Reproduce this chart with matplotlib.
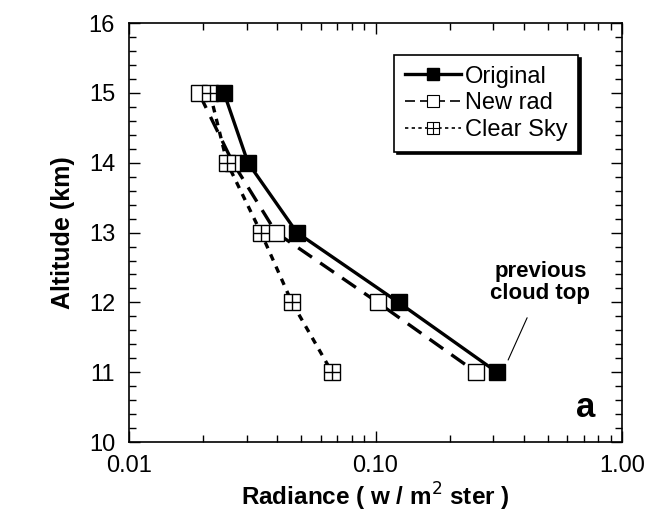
import numpy as np
import matplotlib.pyplot as plt
from matplotlib.lines import Line2D
from matplotlib.legend_handler import HandlerTuple
from matplotlib.ticker import FixedLocator, MultipleLocator, NullFormatter

plt.rcParams['font.family'] = ['Liberation Sans', 'DejaVu Sans']

# Altitude levels (km) and radiance profiles (w / m^2 ster)
altitude = [15, 14, 13, 12, 11]
original = [0.0243, 0.0304, 0.048, 0.124, 0.311]
new_rad = [0.0192, 0.0264, 0.0395, 0.102, 0.256]
altitude_clear = [15, 14, 13, 12, 11]
clear_sky = [0.0213, 0.0250, 0.0343, 0.0458, 0.0666]

x_ticks = [0.01, 0.1, 1.0]
x_tick_labels = ['0.01', '0.10', '1.00']
y_ticks = [10, 11, 12, 13, 14, 15, 16]

fig = plt.figure(figsize=(6.48, 5.14), dpi=100)
ax = fig.add_axes([0.199, 0.140, 0.761, 0.815])

ms = 11
# Original: solid line, filled squares
ax.plot(original, altitude, color='black', lw=2.4, marker='s', ms=ms,
        mfc='black', mec='black', mew=1, zorder=4)
# New rad: long dashes, open squares
ax.plot(new_rad, altitude, color='black', lw=2.4, ls=(0, (5, 3)), marker='s',
        ms=ms, mfc='white', mec='black', mew=1, zorder=3)
# Clear sky: short dashes, squares with a cross
ax.plot(clear_sky, altitude_clear, color='black', lw=2.4, ls=(0, (2, 2)),
        marker='s', ms=ms, mfc='white', mec='black', mew=1, zorder=3)
ax.plot(clear_sky, altitude_clear, ls='none', marker='+', ms=ms,
        mec='black', mew=1, zorder=3.5)

ax.set_xscale('log')
ax.set_xlim(0.01, 1.0)
ax.set_ylim(10, 16)
ax.xaxis.set_major_locator(FixedLocator(x_ticks))
ax.set_xticklabels(x_tick_labels)
ax.xaxis.set_minor_formatter(NullFormatter())
ax.set_yticks(y_ticks)
ax.yaxis.set_minor_locator(MultipleLocator(0.2))

ax.tick_params(which='both', direction='in', top=True, right=True,
               labelsize=17, width=1)
ax.tick_params(which='major', length=8)
ax.tick_params(which='minor', length=5)
ax.tick_params(axis='x', which='major', pad=9)
ax.tick_params(axis='y', which='major', pad=10)
for sp in ax.spines.values():
    sp.set_linewidth(1.2)

ax.set_xlabel('Radiance ( w / m$^2$ ster )', fontsize=17.5, fontweight='bold',
              labelpad=3)
ax.set_ylabel('Altitude (km)', fontsize=18, fontweight='bold', labelpad=10)

# Legend entries
lms = 8
h_orig = Line2D([], [], color='black', lw=2.4, marker='s', ms=lms,
                mfc='black', mec='black')
h_new = Line2D([], [], color='black', lw=1.2, ls=(0, (6, 3)), marker='s',
               ms=lms, mfc='white', mec='black', mew=0.8)
h_clear_line = Line2D([], [], color='black', lw=1.2, ls=(0, (2, 2)),
                      marker='s', ms=lms, mfc='white', mec='black', mew=0.8)
h_clear_plus = Line2D([], [], ls='none', marker='+', ms=lms, mec='black',
                      mew=0.8)
leg = ax.legend([h_orig, h_new, (h_clear_line, h_clear_plus)],
                ['Original', 'New rad', 'Clear Sky'],
                handler_map={tuple: HandlerTuple(ndivide=1, pad=0)},
                loc='upper right', bbox_to_anchor=(0.911, 0.924),
                fontsize=17, numpoints=1, handlelength=2.4,
                handletextpad=0.15, labelspacing=0.2, borderpad=0.45,
                borderaxespad=0, fancybox=False, edgecolor='black',
                framealpha=1, shadow={'color': 'black', 'alpha': 1})
leg.get_frame().set_linewidth(1.2)

# Pointer to the old cloud top level
ax.annotate('', xy=(0.345, 11.175), xytext=(0.412, 11.78),
            arrowprops=dict(arrowstyle='-', color='black', lw=0.8,
                            shrinkA=0, shrinkB=0))
ax.text(0.466, 12.29, 'previous\ncloud top', ha='center', va='center',
        fontsize=16, fontweight='bold', linespacing=1.05)
ax.text(0.71, 10.49, 'a', ha='center', va='center', fontsize=25,
        fontweight='bold')

fig.savefig('out.png', dpi=100)
